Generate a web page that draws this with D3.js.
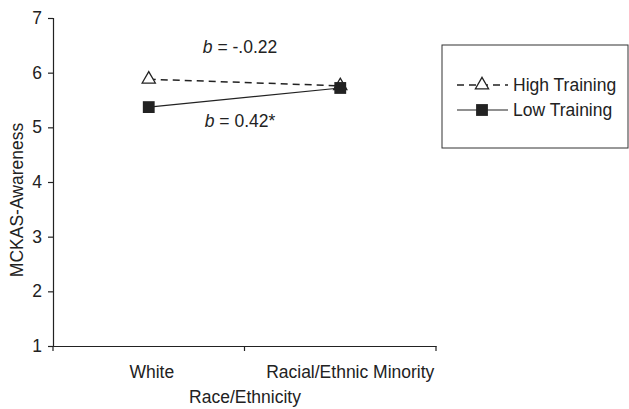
<!DOCTYPE html>
<html><head><meta charset="utf-8">
<script src="https://cdn.jsdelivr.net/npm/d3@7"></script>
<style>body{margin:0;background:#fff}svg{display:block;font-family:"Liberation Sans",Arial,sans-serif}</style>
</head><body><svg id="c" width="629" height="409"></svg>
<script>
const categories = ["White", "Racial/Ethnic Minority"];
const highTraining = [5.88, 5.76];
const lowTraining = [5.37, 5.72];
const yTicks = [1, 2, 3, 4, 5, 6, 7];
const seriesNames = ["High Training", "Low Training"];
const annotations = ["-.0.22", "0.42*"];

const svg = d3.select("#c");
const ink = "#222";
const fs = 17.5;
const x = d3.scaleBand().domain(categories).range([53, 436]);
const y = d3.scaleLinear().domain([1, 7]).range([346, 18]);

// y axis
const yAxis = svg.append("g").attr("transform", "translate(53,0)")
  .call(d3.axisLeft(y).tickValues(yTicks).tickSize(5).tickPadding(6).tickFormat(d3.format("d")));
// x axis
const xAxis = svg.append("g").attr("transform", "translate(0,346)")
  .call(d3.axisBottom(x).tickSize(0).tickPadding(20));
const labelShift = [3, 10];
xAxis.selectAll(".tick text").attr("dx", (d, i) => labelShift[i]);
[yAxis, xAxis].forEach(g => {
  g.select(".domain").attr("stroke", ink).attr("stroke-width", 1.2);
  g.selectAll("line").attr("stroke", ink).attr("stroke-width", 1.2);
  g.selectAll("text").attr("fill", ink).style("font-size", fs + "px").style("font-family", "Liberation Sans, Arial, sans-serif");
});
// x boundary ticks
const bounds = [53, 53 + x.step(), 436];
svg.append("g").selectAll("line").data(bounds).join("line")
  .attr("x1", d => d).attr("x2", d => d).attr("y1", 346).attr("y2", 351)
  .attr("stroke", ink).attr("stroke-width", 1.2);

// titles
svg.append("text").attr("x", 245).attr("y", 403).attr("text-anchor", "middle")
  .attr("fill", ink).style("font-size", fs + "px").text("Race/Ethnicity");
svg.append("text").attr("transform", "translate(23,200) rotate(-90)").attr("text-anchor", "middle")
  .attr("fill", ink).style("font-size", fs + "px").text("MCKAS-Awareness");

const cx = d => x(d) + x.bandwidth() / 2;
const line = d3.line().x(d => cx(d.c)).y(d => y(d.v));
const hi = categories.map((c, i) => ({c, v: highTraining[i]}));
const lo = categories.map((c, i) => ({c, v: lowTraining[i]}));

svg.append("path").datum(lo).attr("d", line).attr("fill", "none").attr("stroke", ink).attr("stroke-width", 1.2);
svg.append("path").datum(hi).attr("d", line).attr("fill", "none").attr("stroke", ink).attr("stroke-width", 1.5).attr("stroke-dasharray", "7,5");

const tri = d3.symbol().type(d3.symbolTriangle).size(75);
const sq = d3.symbol().type(d3.symbolSquare).size(140);
svg.append("g").selectAll("path").data(hi).join("path")
  .attr("d", tri).attr("transform", d => `translate(${cx(d.c)},${y(d.v)})`)
  .attr("fill", "#fff").attr("stroke", ink).attr("stroke-width", 1.3);
svg.append("g").selectAll("path").data(lo).join("path")
  .attr("d", sq).attr("transform", d => `translate(${cx(d.c)},${y(d.v)})`)
  .attr("fill", ink);

// annotations
function ann(yy, val) {
  const t = svg.append("text").attr("x", 240).attr("y", yy).attr("text-anchor", "middle")
    .attr("fill", ink).style("font-size", fs + "px");
  t.append("tspan").style("font-style", "italic").text("b");
  t.append("tspan").text(" = " + val);
}
ann(53, annotations[0]);
ann(127, annotations[1]);

// legend
svg.append("rect").attr("x", 442).attr("y", 45).attr("width", 186).attr("height", 103)
  .attr("fill", "#fff").attr("stroke", "#333").attr("stroke-width", 1);
const lg = svg.append("g");
[0, 1].forEach(i => {
  const ly = 85 + i * 25;
  lg.append("line").attr("x1", 457).attr("x2", 508).attr("y1", ly).attr("y2", ly)
    .attr("stroke", ink).attr("stroke-width", i === 0 ? 1.5 : 1.2)
    .attr("stroke-dasharray", i === 0 ? "7,5" : null);
  lg.append("path").attr("d", i === 0 ? tri : sq).attr("transform", `translate(482,${ly})`)
    .attr("fill", i === 0 ? "#fff" : ink).attr("stroke", i === 0 ? ink : "none").attr("stroke-width", 1.3);
  lg.append("text").attr("x", 513).attr("y", ly + 6).attr("fill", ink)
    .style("font-size", fs + "px").text(seriesNames[i]);
});
</script></body></html>
